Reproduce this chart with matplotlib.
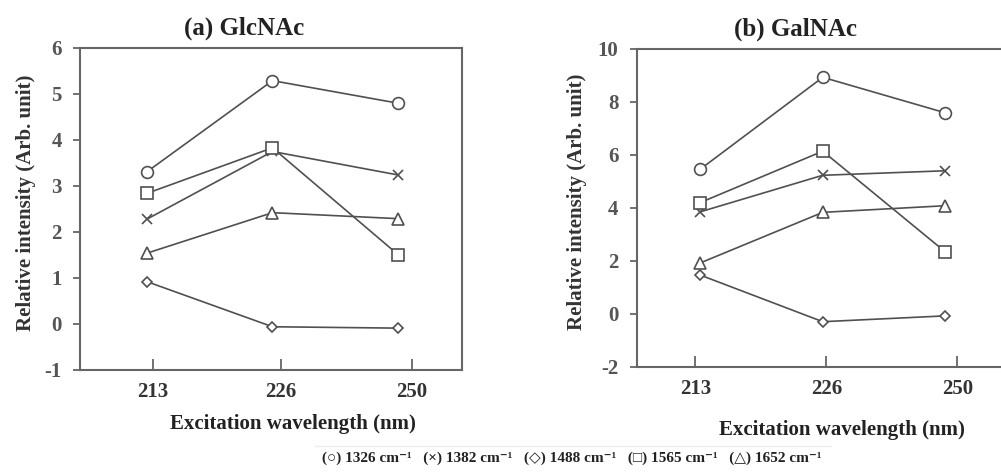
import numpy as np
from matplotlib import pyplot as plt

plt.rcParams['font.family'] = ['Liberation Serif', 'DejaVu Sans']
plt.rcParams['font.weight'] = 'bold'

wavelengths = ["213", "226", "250"]
bands = ["1326", "1382", "1488", "1565", "1652"]
markers = ["o", "x", "D", "s", "^"]
symbols = ["\u25CB", "\u00D7", "\u25C7", "\u25A1", "\u25B3"]

glc_1326 = [3.31, 5.29, 4.80]
glc_1382 = [2.28, 3.75, 3.24]
glc_1488 = [0.92, -0.06, -0.09]
glc_1565 = [2.84, 3.83, 1.51]
glc_1652 = [1.54, 2.42, 2.29]

gal_1326 = [5.46, 8.93, 7.59]
gal_1382 = [3.85, 5.23, 5.40]
gal_1488 = [1.46, -0.30, -0.08]
gal_1565 = [4.20, 6.14, 2.34]
gal_1652 = [1.92, 3.83, 4.08]

line_col = "#505050"
text_col = "#333333"
sizes = {"o": 8.5, "x": 7, "D": 5.5, "s": 8.5, "^": 8}

fig = plt.figure(figsize=(10.01, 4.76), dpi=100)

def panel(rect, series, title, ylim, yticks, xlim, xticks, title_x, xlab_x, xlab_pad, ylab_x):
    ax = fig.add_axes(rect)
    x = np.arange(len(wavelengths))
    for y, m in zip(series, markers):
        ax.plot(x, y, color=line_col, lw=1.2, marker=m, ms=sizes[m],
                mfc="white", mec=line_col, mew=1.2, zorder=3)
    ax.set_xlim(*xlim)
    ax.set_ylim(*ylim)
    ax.set_yticks(yticks)
    ax.set_yticklabels([str(t) for t in yticks])
    ax.set_xticks(xticks)
    ax.set_xticklabels(wavelengths)
    ax.tick_params(axis="x", direction="in", length=8, width=1.3, color="#666666",
                   labelsize=15, labelcolor=text_col, pad=9)
    ax.tick_params(axis="y", direction="out", length=5, width=1.3, color="#666666",
                   labelsize=15, labelcolor="#555555", pad=8)
    for s in ax.spines.values():
        s.set_color("#666666")
        s.set_linewidth(1.5)
    ax.set_title(title, fontsize=18, fontweight="bold", color="#222222", pad=10, x=title_x)
    ax.set_xlabel("Excitation wavelength (nm)", fontsize=15, fontweight="bold",
                  color="#222222", labelpad=xlab_pad, x=xlab_x)
    ax.set_ylabel("Relative intensity (Arb. unit)", fontsize=15, fontweight="bold",
                  color="#333333")
    ax.yaxis.set_label_coords(ylab_x, 0.52)
    return ax

panel([0.0799, 0.2227, 0.3816, 0.6765],
      [glc_1326, glc_1382, glc_1488, glc_1565, glc_1652],
      "(a) GlcNAc", (-1, 6), list(range(-1, 7)),
      (-0.534, 2.51), [0.048, 1.068, 2.112], 0.43, 0.558, 8, -0.116)

panel([0.636, 0.2296, 0.40, 0.6675],
      [gal_1326, gal_1382, gal_1488, gal_1565, gal_1652],
      "(b) GalNAc", (-2, 10), list(range(-2, 11, 2)),
      (-0.52, 2.75), [-0.04, 1.03, 2.10], 0.398, 0.513, 15, -0.125)

legend_text = "   ".join("({}) {} cm\u207B\u00B9".format(s, b) for s, b in zip(symbols, bands))
fig.text(0.571, 0.023, legend_text, ha="center", va="bottom", fontsize=11,
         fontweight="bold", color="#222222")
fig.add_artist(plt.Line2D([0.315, 0.83], [0.063, 0.063], color="#eeeeee", lw=1))

plt.savefig("out.png", dpi=100)
